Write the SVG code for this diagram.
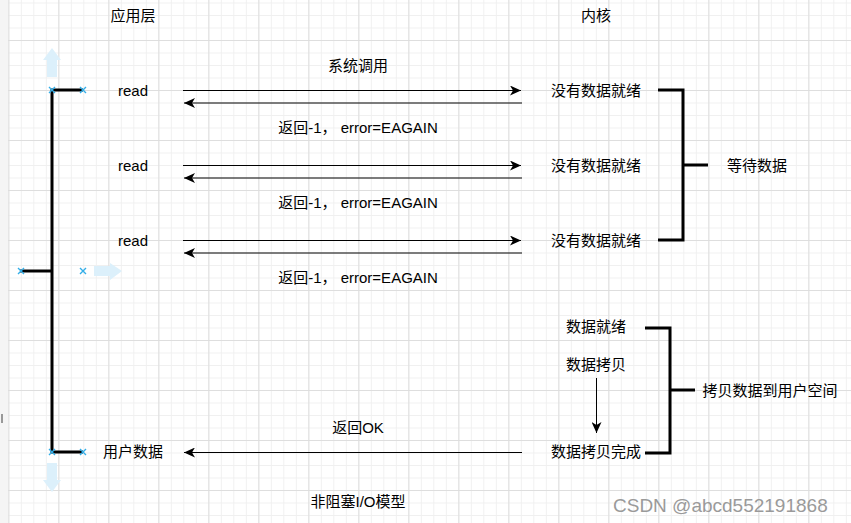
<svg xmlns="http://www.w3.org/2000/svg" width="851" height="523" viewBox="0 0 851 523">
<style>
text{font-family:"Liberation Sans","Noto Sans CJK SC",sans-serif;font-size:15px;fill:#000;text-anchor:middle;dominant-baseline:central}
.br{fill:none;stroke:#000;stroke-width:3;stroke-linejoin:miter;stroke-linecap:butt}
.ar{fill:none;stroke:#000;stroke-width:1}
.mk{fill:none;stroke:#33aee8;stroke-width:1.4}
.ba{fill:#dcf0fb}
.wm{font-size:19px;fill:#9a9a9a;text-anchor:start}
</style>
<defs>
<pattern id="minor" x="8.33" y="2.5" width="12.5" height="12.5" patternUnits="userSpaceOnUse">
<path d="M0,0.5 H12.5 M0.5,0 V12.5" stroke="#f0f0f0" stroke-width="1" fill="none"/>
</pattern>
<pattern id="major" x="8.33" y="40" width="50" height="50" patternUnits="userSpaceOnUse">
<path d="M0,0.5 H50 M0.5,0 V50" stroke="#dedede" stroke-width="1" fill="none"/>
</pattern>
<marker id="ah" markerUnits="userSpaceOnUse" markerWidth="12" markerHeight="10" refX="11" refY="5" orient="auto" viewBox="0 0 12 10">
<path d="M0,0 L11,5 L0,10 L3,5 Z" fill="#000"/>
</marker>
<path id="x" d="M-3,-3 L3,3 M-3,3 L3,-3"/>
</defs>
<rect width="851" height="523" fill="#fff"/>
<rect x="0" y="0" width="8" height="523" fill="#f5f5f5"/>
<rect x="8" y="0" width="843" height="523" fill="url(#minor)"/>
<rect x="8" y="0" width="843" height="523" fill="url(#major)"/>
<rect x="1" y="414" width="2" height="9" fill="#999"/>

<g id="connectors">
<path class="ar" d="M183,90.5 H521" marker-end="url(#ah)"/>
<path class="ar" d="M522,103 H184" marker-end="url(#ah)"/>
<path class="ar" d="M183,165.5 H521" marker-end="url(#ah)"/>
<path class="ar" d="M522,178 H184" marker-end="url(#ah)"/>
<path class="ar" d="M183,240.5 H521" marker-end="url(#ah)"/>
<path class="ar" d="M522,253 H184" marker-end="url(#ah)"/>
<path class="ar" d="M522,452.5 H184" marker-end="url(#ah)"/>
<path class="ar" d="M596.5,378 V433" marker-end="url(#ah)"/>
</g>

<g id="left-bracket">
<path class="br" d="M83,90 H52 V452 H83"/>
<path class="br" d="M20,271 H52"/>
<path class="ba" d="M52,48 L61,60 L57,60 L57,77 L47,77 L47,60 L43,60 Z"/>
<path class="ba" d="M122,271 L110,263 L110,266 L94,266 L94,276 L110,276 L110,280 Z"/>
<path class="ba" d="M52,492 L61,480 L57,480 L57,463 L47,463 L47,480 L43,480 Z"/>
<g class="mk">
<use href="#x" x="52" y="90"/>
<use href="#x" x="83" y="90"/>
<use href="#x" x="21" y="271"/>
<use href="#x" x="83" y="271"/>
<use href="#x" x="52" y="452"/>
<use href="#x" x="83" y="452"/>
</g>
</g>

<g id="wait-bracket">
<path class="br" d="M658,90 H683 V240 H658"/>
<path class="br" d="M683,165 H708"/>
</g>
<g id="copy-bracket">
<path class="br" d="M645,328 H670 V453 H645"/>
<path class="br" d="M670,390 H695"/>
</g>

<g id="header-app"><text x="133" y="15">应用层</text></g>
<g id="header-kernel"><text x="596" y="15">内核</text></g>

<g id="read1"><text x="133" y="90">read</text></g>
<g id="read2"><text x="133" y="165">read</text></g>
<g id="read3"><text x="133" y="240">read</text></g>
<g id="userdata"><text x="133" y="451">用户数据</text></g>

<g id="syscall"><text x="358" y="65">系统调用</text></g>
<g id="ret1"><text x="358" y="127">返回-1， error=EAGAIN</text></g>
<g id="ret2"><text x="358" y="202">返回-1， error=EAGAIN</text></g>
<g id="ret3"><text x="358" y="277">返回-1， error=EAGAIN</text></g>
<g id="retok"><text x="358" y="427">返回OK</text></g>

<g id="k1"><text x="596" y="90">没有数据就绪</text></g>
<g id="k2"><text x="596" y="165">没有数据就绪</text></g>
<g id="k3"><text x="596" y="240">没有数据就绪</text></g>
<g id="ready"><text x="596" y="326">数据就绪</text></g>
<g id="copying"><text x="596" y="364">数据拷贝</text></g>
<g id="copydone"><text x="596" y="451">数据拷贝完成</text></g>

<g id="wait"><text x="757" y="165">等待数据</text></g>
<g id="copyuser"><text x="770" y="390">拷贝数据到用户空间</text></g>

<g id="title"><text x="358" y="501">非阻塞I/O模型</text></g>
<text class="wm" x="613" y="505">CSDN @abcd552191868</text>
</svg>
